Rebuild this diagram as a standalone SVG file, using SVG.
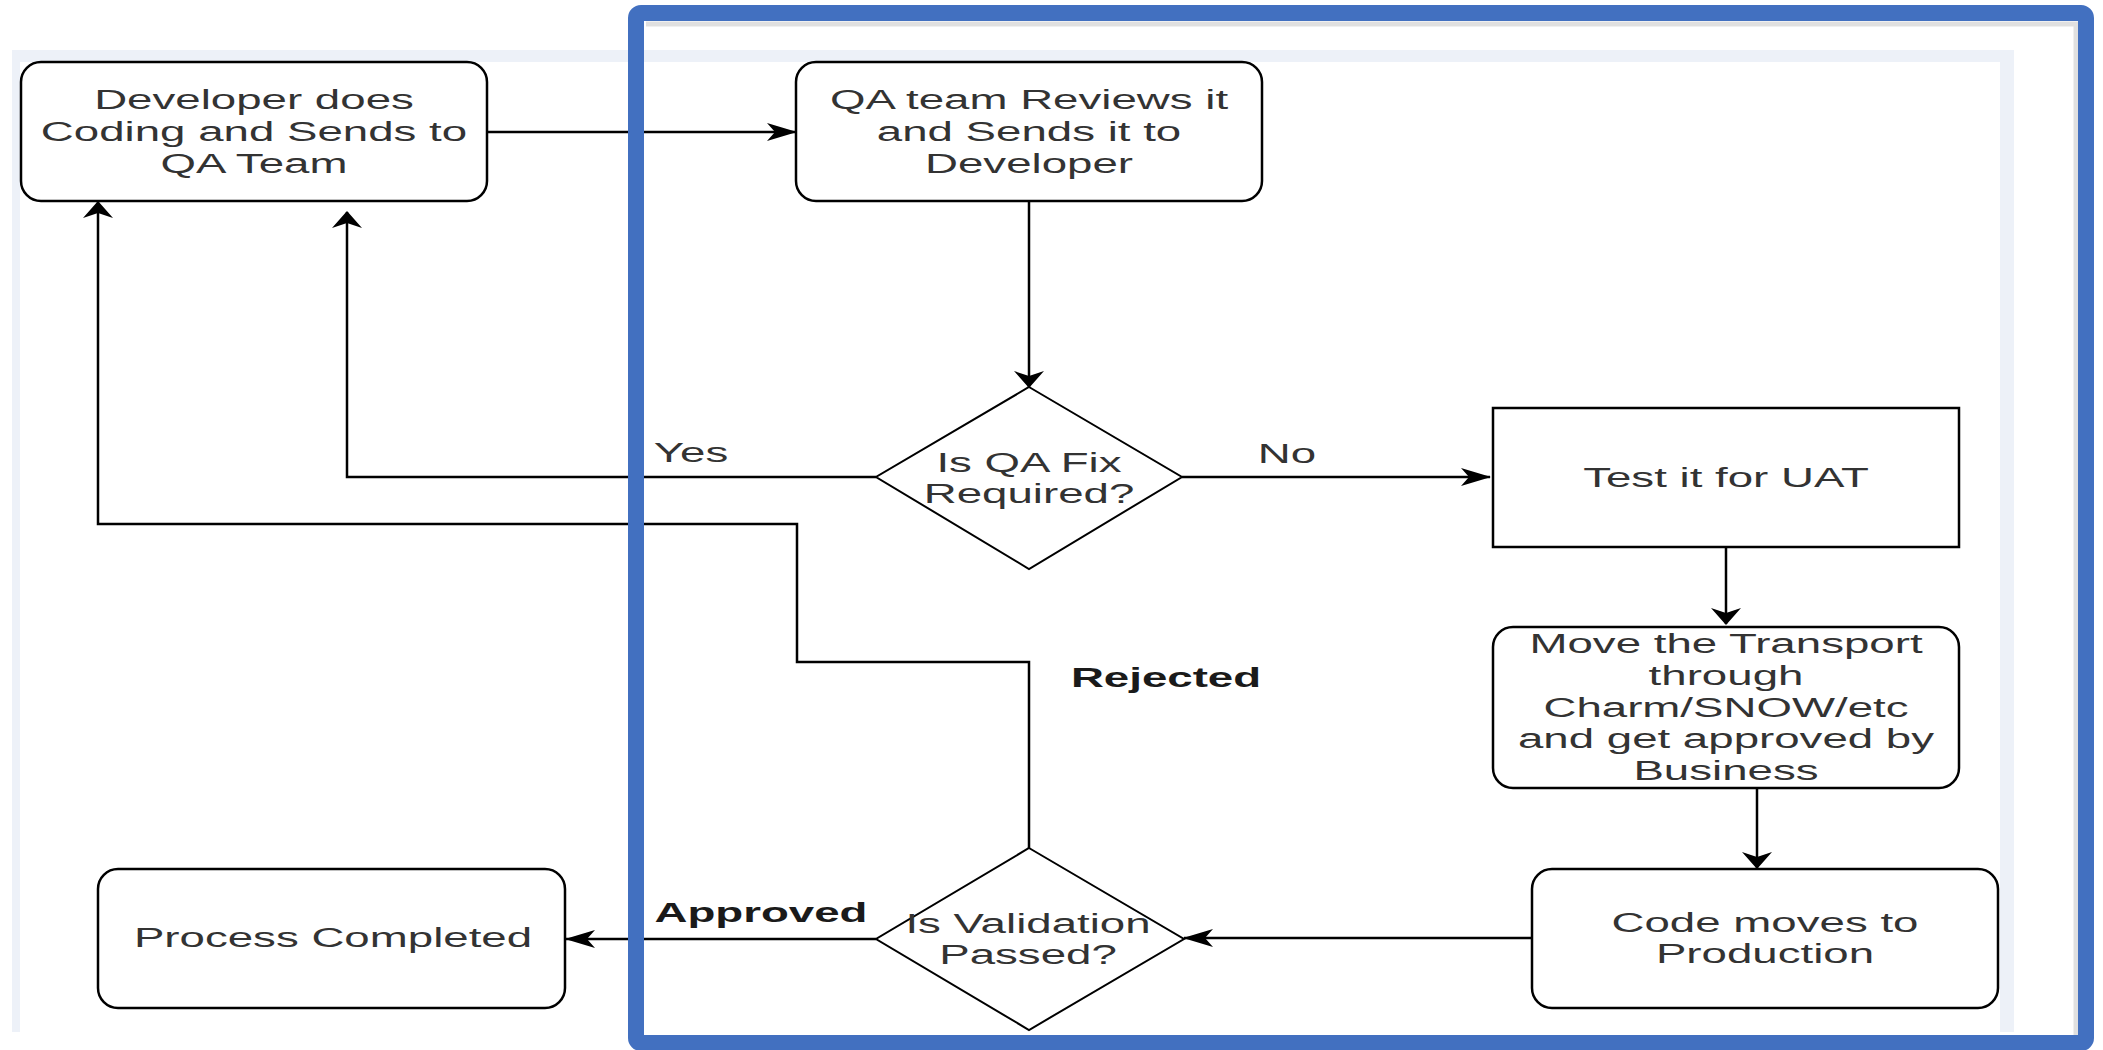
<svg xmlns="http://www.w3.org/2000/svg" width="2103" height="1050" viewBox="0 0 2103 1050">
<style>
.box{fill:#fff;stroke:#000;stroke-width:2.5}
.dia{fill:#fff;stroke:#000;stroke-width:2}
.edge{fill:none;stroke:#000;stroke-width:2.5}
.t{font-family:"Liberation Sans",Arial,sans-serif;font-size:28px;fill:#333;text-anchor:middle}
.b{font-weight:bold;fill:#1a1a1a}
</style>
<defs>
<marker id="ah" markerUnits="userSpaceOnUse" markerWidth="30" markerHeight="18" viewBox="0 0 30 18" refX="29" refY="9" orient="auto">
<path d="M0,0 L30,9 L0,18 L8,9 Z" fill="#000"/>
</marker>
<marker id="av" markerUnits="userSpaceOnUse" markerWidth="17" markerHeight="30" viewBox="0 0 17 30" refX="16" refY="15" orient="auto">
<path d="M0,0 L17,15 L0,30 L5,15 Z" fill="#000"/>
</marker>
</defs>
<rect width="2103" height="1050" fill="#fff"/>
<rect x="12" y="50" width="2002" height="982" fill="#EDF1F8"/>
<rect x="20" y="62" width="1980" height="970" fill="#fff"/>

<g id="connectors">
<path class="edge" d="M487,132 H796" marker-end="url(#ah)"/>
<path class="edge" d="M1029,201 V387" marker-end="url(#av)"/>
<path class="edge" d="M876,477 H347 V212" marker-end="url(#av)"/>
<path class="edge" d="M1182,477 H1490" marker-end="url(#ah)"/>
<path class="edge" d="M1726,547 V624" marker-end="url(#av)"/>
<path class="edge" d="M1757,788 V868" marker-end="url(#av)"/>
<path class="edge" d="M1532,938 H1184" marker-end="url(#ah)"/>
<path class="edge" d="M876,939 H566" marker-end="url(#ah)"/>
<path class="edge" d="M1029,848 V662 H797 V524 H98 V202" marker-end="url(#av)"/>
<text class="t" transform="translate(691,0) scale(1.63,1)"><tspan x="0" y="462">Yes</tspan></text>
<text class="t" transform="translate(1287,0) scale(1.63,1)"><tspan x="0" y="463">No</tspan></text>
<text class="t b" transform="translate(1166,0) scale(1.63,1)"><tspan x="0" y="687">Rejected</tspan></text>
<text class="t b" transform="translate(761,0) scale(1.63,1)"><tspan x="0" y="922">Approved</tspan></text>
</g>

<g id="dev">
<rect class="box" x="21" y="62" width="466" height="139" rx="20"/>
<text class="t" transform="translate(254,0) scale(1.63,1)"><tspan x="0" y="109">Developer does</tspan><tspan x="0" y="141">Coding and Sends to</tspan><tspan x="0" y="173">QA Team</tspan></text>
</g>
<g id="qa">
<rect class="box" x="796" y="62" width="466" height="139" rx="20"/>
<text class="t" transform="translate(1029,0) scale(1.63,1)"><tspan x="0" y="109">QA team Reviews it</tspan><tspan x="0" y="141">and Sends it to</tspan><tspan x="0" y="173">Developer</tspan></text>
</g>
<g id="qafix">
<path class="dia" d="M1029,387 L1182,477 L1029,569 L876,477 Z"/>
<text class="t" transform="translate(1029,0) scale(1.63,1)"><tspan x="0" y="472">Is QA Fix</tspan><tspan x="0" y="503">Required?</tspan></text>
</g>
<g id="uat">
<rect class="box" x="1493" y="408" width="466" height="139"/>
<text class="t" transform="translate(1726,0) scale(1.63,1)"><tspan x="0" y="487">Test it for UAT</tspan></text>
</g>
<g id="transport">
<rect class="box" x="1493" y="627" width="466" height="161" rx="20"/>
<text class="t" transform="translate(1726,0) scale(1.63,1)"><tspan x="0" y="653">Move the Transport</tspan><tspan x="0" y="685">through</tspan><tspan x="0" y="717">Charm/SNOW/etc</tspan><tspan x="0" y="748">and get approved by</tspan><tspan x="0" y="780">Business</tspan></text>
</g>
<g id="prod">
<rect class="box" x="1532" y="869" width="466" height="139" rx="20"/>
<text class="t" transform="translate(1765,0) scale(1.63,1)"><tspan x="0" y="932">Code moves to</tspan><tspan x="0" y="963">Production</tspan></text>
</g>
<g id="validation">
<path class="dia" d="M1029,848 L1184,939 L1029,1030 L876,939 Z"/>
<text class="t" transform="translate(1028,0) scale(1.63,1)"><tspan x="0" y="933">Is Validation</tspan><tspan x="0" y="964">Passed?</tspan></text>
</g>
<g id="done">
<rect class="box" x="98" y="869" width="467" height="139" rx="20"/>
<text class="t" transform="translate(333,0) scale(1.63,1)"><tspan x="0" y="947">Process Completed</tspan></text>
</g>

<g id="highlight">
<path d="M646,24 H2076 V1036" fill="none" stroke="#000" stroke-opacity="0.12" stroke-width="5"/>
<rect x="636" y="13" width="1450" height="1030" rx="5" fill="none" stroke="#4270C0" stroke-width="16"/>
</g>
</svg>
